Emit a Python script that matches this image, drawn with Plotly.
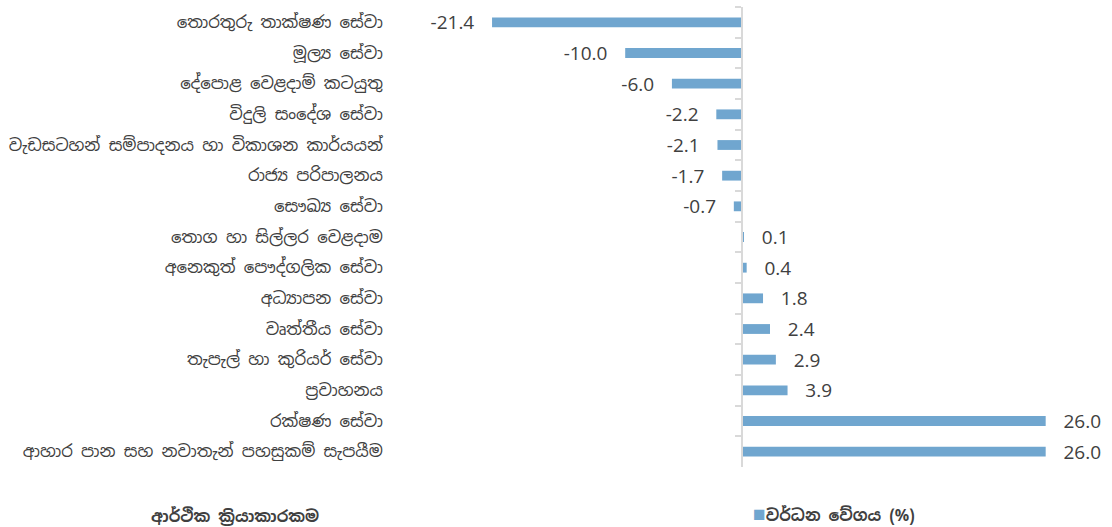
import plotly.graph_objects as go

categories = [
    "තොරතුරු තාක්ෂණ සේවා",
    "මූල්‍ය සේවා",
    "දේපොළ වෙළදාම් කටයුතු",
    "විදුලි සංදේශ සේවා",
    "වැඩසටහන් සම්පාදනය හා විකාශන කාර්යයන්",
    "රාජ්‍ය පරිපාලනය",
    "සෞඛ්‍ය සේවා",
    "තොග හා සිල්ලර වෙළදාම",
    "අනෙකුත් පෞද්ගලික සේවා",
    "අධ්‍යාපන සේවා",
    "වෘත්තීය සේවා",
    "තැපැල් හා කුරියර් සේවා",
    "ප්‍රවාහනය",
    "රක්ෂණ සේවා",
    "ආහාර පාන සහ නවාතැන් පහසුකම් සැපයීම",
]
values = [-21.4, -10.0, -6.0, -2.2, -2.1, -1.7, -0.7, 0.1, 0.4, 1.8, 2.4, 2.9, 3.9, 26.0, 26.0]
series_name = "වර්ධන වේගය (%)"
axis_title = "ආර්ථික ක්‍රියාකාරකම"

BAR_COLOR = "#70A6CF"
NB = "\u00a0" * 3
labels = [(f"{v:.1f}" + NB) if v < 0 else (NB + f"{v:.1f}") for v in values]

W, H = 1112, 527
ml, mr, mt, mb = 420, 7, 7, 60
plot_w = W - ml - mr
plot_h = H - mt - mb
zero_px = 742
scale = 11.68
xmin = -(zero_px - ml) / scale
xmax = (W - mr - zero_px) / scale

fig = go.Figure()
fig.add_trace(go.Bar(
    x=values, y=categories, orientation="h",
    name=series_name,
    marker=dict(color=BAR_COLOR, line=dict(width=0)),
    width=0.32,
    text=labels, textposition="outside", constraintext="none",
    textfont=dict(family="Open Sans, sans-serif", size=19, color="#404040"),
    cliponaxis=False,
    showlegend=False,
))

fig.update_layout(
    width=W, height=H,
    margin=dict(l=ml, r=mr, t=mt, b=mb),
    plot_bgcolor="white", paper_bgcolor="white",
    font=dict(family="Noto Sans Sinhala, Iskoola Pota, sans-serif", color="#404040"),
    xaxis=dict(range=[xmin, xmax], showgrid=False, zeroline=False,
               showticklabels=False, ticks="", showline=False, fixedrange=True),
    yaxis=dict(autorange="reversed", anchor="free",
               position=(zero_px - ml) / plot_w,
               showline=True, linecolor="#D9D9D9", linewidth=1.5,
               ticks="outside", tickson="boundaries", ticklen=6, tickcolor="#D9D9D9",
               tickwidth=1.5,
               ticklabelstandoff=355,
               tickfont=dict(size=16.6, color="#404040"),
               showgrid=False, automargin=False),
    showlegend=False,
    bargap=0.68,
)
fig.add_annotation(text=f"<b>{axis_title}</b>", xref="paper", yref="paper",
                   x=-(ml - 235) / plot_w, y=-(516 - (H - mb)) / plot_h,
                   xanchor="center", yanchor="middle", showarrow=False,
                   font=dict(size=16, color="#404040"))
fig.add_annotation(text=f"<span style='color:{BAR_COLOR};font-size:21px'>■</span><b>{series_name}</b>",
                   xref="paper", yref="paper",
                   x=(751 - ml) / plot_w, y=-(513 - (H - mb)) / plot_h,
                   xanchor="left", yanchor="middle", showarrow=False,
                   font=dict(size=16, color="#404040"))

fig.write_html("out.html", post_script="document.body.style.margin='0';",
               config={"displayModeBar": False})
